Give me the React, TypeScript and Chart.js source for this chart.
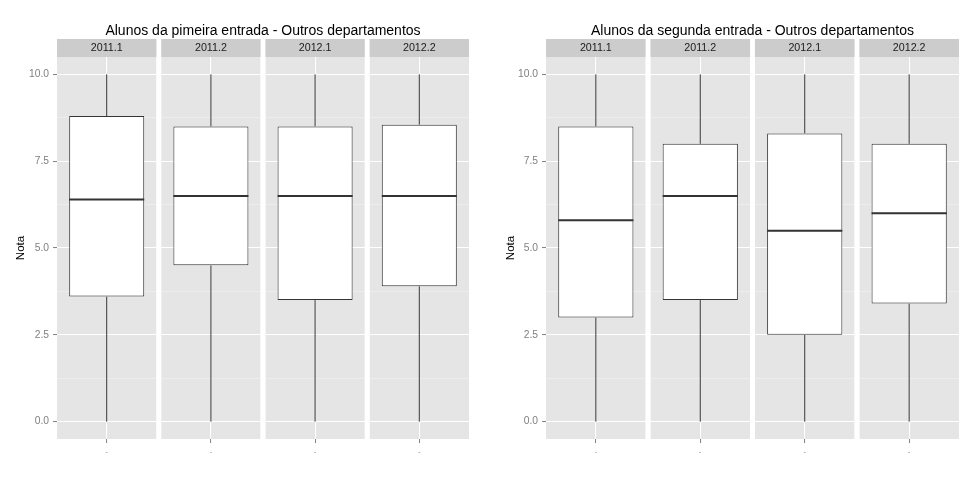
import React, { useEffect, useRef } from 'react';
import { Chart, registerables } from 'chart.js';

Chart.register(...registerables);

// ---- data ----
const FACETS = ['2011.1', '2011.2', '2012.1', '2012.2'];
const FACET_POS = [1, 2, 3, 4];

const P1_TITLE = 'Alunos da pimeira entrada - Outros departamentos';
const P1_MIN = [0, 0, 0, 0];
const P1_Q1 = [3.6, 4.5, 3.5, 3.9];
const P1_MED = [6.4, 6.5, 6.5, 6.5];
const P1_Q3 = [8.8, 8.5, 8.5, 8.55];
const P1_MAX = [10, 10, 10, 10];

const P2_TITLE = 'Alunos da segunda entrada - Outros departamentos';
const P2_MIN = [0, 0, 0, 0];
const P2_Q1 = [3.0, 3.5, 2.5, 3.4];
const P2_MED = [5.8, 6.5, 5.5, 6.0];
const P2_Q3 = [8.5, 8.0, 8.3, 8.0];
const P2_MAX = [10, 10, 10, 10];

const Y_MAJOR = [0, 2.5, 5, 7.5, 10];
const Y_MAJOR_LABELS = ['0.0', '2.5', '5.0', '7.5', '10.0'];
const Y_MINOR = [1.25, 3.75, 6.25, 8.75];
const Y_TITLE = 'Nota';
const X_TICK_LABEL = '-';

// ---- layout / style constants ----
const FACET_HALF = 0.477; // half width of a facet panel in x units
const BOX_FRAC = 0.72; // box width as fraction of facet spacing
const FONT = '"Liberation Sans", Arial, sans-serif';

const isMajor = (v: number) => Y_MAJOR.indexOf(v) >= 0;

const facetPlugin = {
  id: 'facets',
  beforeDraw(chart: any) {
    const { ctx, chartArea: a, scales } = chart;
    const x = scales.x;
    ctx.save();
    ctx.fillStyle = '#e5e5e5';
    FACET_POS.forEach((p) => {
      const l = x.getPixelForValue(p - FACET_HALF);
      const r = x.getPixelForValue(p + FACET_HALF);
      ctx.fillRect(l, a.top, r - l, a.bottom - a.top);
    });
    ctx.restore();
  },
  beforeDatasetsDraw(chart: any) {
    const { ctx, chartArea: a, scales } = chart;
    const x = scales.x;
    ctx.save();
    ctx.fillStyle = '#ffffff';
    for (let i = 0; i < FACET_POS.length - 1; i++) {
      const l = x.getPixelForValue(FACET_POS[i] + FACET_HALF);
      const r = x.getPixelForValue(FACET_POS[i + 1] - FACET_HALF);
      ctx.fillRect(l, a.top - 1, r - l, a.bottom - a.top + 2);
    }
    ctx.restore();
  },
  afterDraw(chart: any, _args: any, opts: any) {
    const { ctx, chartArea: a, scales } = chart;
    const x = scales.x;
    ctx.save();
    // strips
    FACET_POS.forEach((p, i) => {
      const l = x.getPixelForValue(p - FACET_HALF);
      const r = x.getPixelForValue(p + FACET_HALF);
      ctx.fillStyle = '#cccccc';
      ctx.fillRect(l, a.top - 18, r - l, 18);
      ctx.fillStyle = '#1a1a1a';
      ctx.font = `10.7px ${FONT}`;
      ctx.textAlign = 'center';
      ctx.textBaseline = 'middle';
      ctx.fillText(FACETS[i], (l + r) / 2, a.top - 8.5);
    });
    // title
    ctx.fillStyle = '#000000';
    ctx.font = `14px ${FONT}`;
    ctx.textAlign = 'center';
    ctx.textBaseline = 'alphabetic';
    ctx.fillText(opts.title || '', (a.left + a.right) / 2, 35);
    ctx.restore();
  },
};

type PanelProps = {
  left: number;
  width: number;
  axisW: number;
  title: string;
  mins: number[];
  q1: number[];
  med: number[];
  q3: number[];
  maxs: number[];
};

function Panel({ left, width, axisW, title, mins, q1, med, q3, maxs }: PanelProps) {
  const ref = useRef<HTMLCanvasElement>(null);
  useEffect(() => {
    const half = BOX_FRAC / 2;
    const boxData = FACET_POS.map((p, i) => ({ x: p, y: [q1[i], q3[i]] }));
    const whiskerData: any[] = [];
    FACET_POS.forEach((p, i) => {
      whiskerData.push({ x: p, y: mins[i] }, { x: p, y: q1[i] }, { x: p, y: null });
      whiskerData.push({ x: p, y: q3[i] }, { x: p, y: maxs[i] }, { x: p, y: null });
    });
    const medianData: any[] = [];
    FACET_POS.forEach((p, i) => {
      medianData.push({ x: p - half, y: med[i] }, { x: p + half, y: med[i] }, { x: p, y: null });
    });
    const yTicks = [...Y_MAJOR, ...Y_MINOR].sort((a, b) => a - b);

    const chart = new Chart(ref.current as HTMLCanvasElement, {
      type: 'bar',
      data: {
        datasets: [
          {
            type: 'line',
            data: medianData,
            borderColor: '#333333',
            borderWidth: 2,
            pointRadius: 0,
            fill: false,
            tension: 0,
            spanGaps: false,
            order: 0,
          } as any,
          {
            type: 'bar',
            data: boxData,
            backgroundColor: '#ffffff',
            borderColor: '#333333',
            borderWidth: 1,
            borderSkipped: false,
            barPercentage: BOX_FRAC,
            categoryPercentage: 1,
            order: 1,
          } as any,
          {
            type: 'line',
            data: whiskerData,
            borderColor: '#333333',
            borderWidth: 1,
            pointRadius: 0,
            fill: false,
            tension: 0,
            spanGaps: false,
            order: 2,
          } as any,
        ],
      },
      options: {
        animation: false,
        responsive: false,
        events: [],
        layout: { padding: { top: 57, left: 0, right: width - 469, bottom: 0 } },
        plugins: {
          legend: { display: false },
          tooltip: { enabled: false },
          title: { display: false },
          facets: { title },
        } as any,
        scales: {
          x: {
            type: 'linear',
            min: FACET_POS[0] - FACET_HALF,
            max: FACET_POS[FACET_POS.length - 1] + FACET_HALF,
            offset: false,
            afterBuildTicks: (s: any) => {
              s.ticks = FACET_POS.map((v) => ({ value: v }));
            },
            afterFit: (s: any) => {
              s.height = 45;
            },
            grid: {
              offset: false,
              color: '#ffffff',
              lineWidth: 1.1,
              tickLength: 4,
              tickWidth: 1,
              tickColor: '#7f7f7f',
            },
            border: { display: false },
            ticks: {
              callback: () => X_TICK_LABEL,
              color: '#7f7f7f',
              font: { size: 7, family: FONT },
              padding: 5,
              maxRotation: 0,
              autoSkip: false,
            },
          },
          y: {
            type: 'linear',
            min: -0.5,
            max: 10.5,
            afterBuildTicks: (s: any) => {
              s.ticks = yTicks.map((v) => ({ value: v }));
            },
            afterFit: (s: any) => {
              s.width = axisW;
            },
            grid: {
              color: (c: any) => (c.tick && !isMajor(c.tick.value) ? '#f2f2f2' : '#ffffff'),
              lineWidth: (c: any) => (c.tick && !isMajor(c.tick.value) ? 0.6 : 1.1),
              tickColor: (c: any) => (c.tick && !isMajor(c.tick.value) ? 'rgba(0,0,0,0)' : '#7f7f7f'),
              tickWidth: 1,
              tickLength: 4,
            },
            border: { display: false },
            ticks: {
              callback: (v: any) => {
                const idx = Y_MAJOR.indexOf(Number(v));
                return idx >= 0 ? Y_MAJOR_LABELS[idx] : '';
              },
              color: '#7f7f7f',
              font: { size: 10.3, family: FONT },
              padding: 4,
              autoSkip: false,
            },
            title: {
              display: true,
              text: Y_TITLE,
              color: '#000000',
              font: { size: 11.5, family: FONT },
              padding: { top: 13.6, bottom: 0 },
            },
          },
        },
      } as any,
      plugins: [facetPlugin as any],
    });
    return () => chart.destroy();
  }, []);
  return (
    <canvas
      ref={ref}
      width={width}
      height={484}
      style={{ position: 'absolute', left, top: 0, width, height: 484, display: 'block' }}
    />
  );
}

export default function App() {
  return (
    <div style={{ position: 'absolute', left: 0, top: 0, width: 979, height: 484, background: '#ffffff' }}>
      <Panel left={0} width={490} axisW={57} title={P1_TITLE} mins={P1_MIN} q1={P1_Q1} med={P1_MED} q3={P1_Q3} maxs={P1_MAX} />
      <Panel left={490} width={489} axisW={56} title={P2_TITLE} mins={P2_MIN} q1={P2_Q1} med={P2_MED} q3={P2_Q3} maxs={P2_MAX} />
    </div>
  );
}
